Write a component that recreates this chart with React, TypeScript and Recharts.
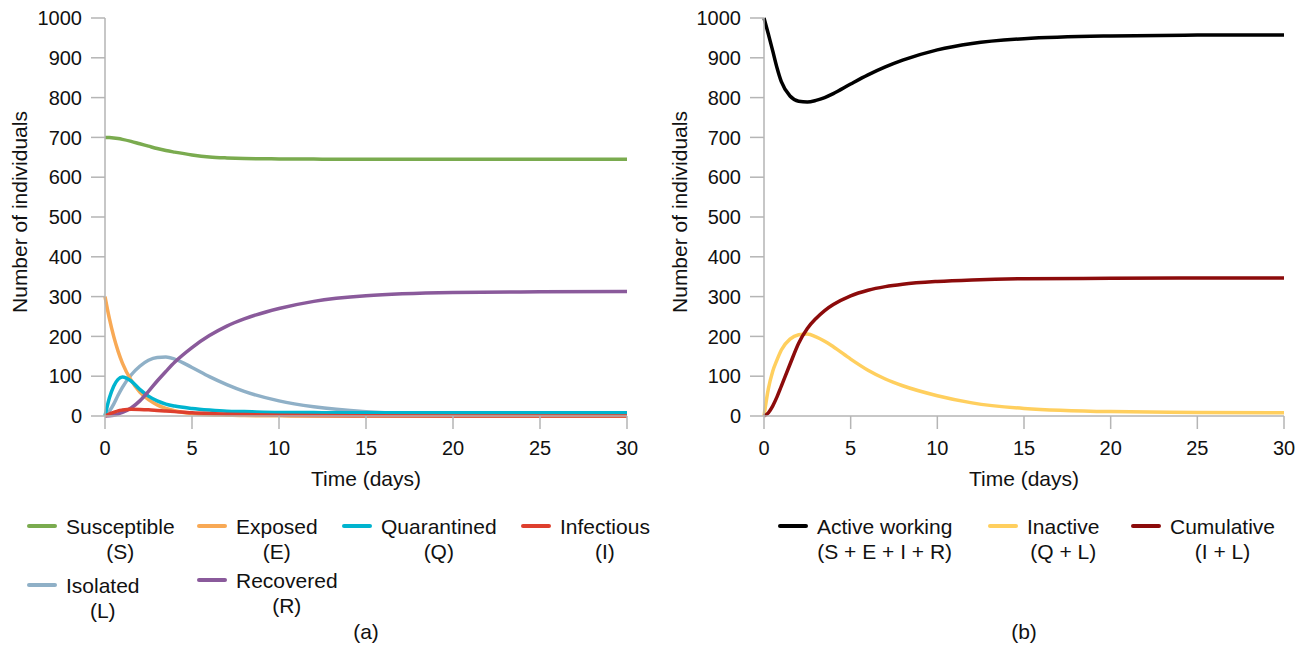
import { LineChart, Line, XAxis, YAxis } from 'recharts'

const time = [0, 0.25, 0.5, 0.75, 1, 1.5, 2, 2.5, 3, 3.5, 4, 5, 6, 7, 8, 10, 12, 15, 20, 25, 30]

// panel (a)
const susceptible = [700, 699.5, 698.5, 697, 695, 690, 684, 678, 672, 667, 663, 656, 651, 648.5, 647, 646, 645.5, 645, 645, 645, 645]
const exposed = [300, 245, 200, 163, 133, 90, 60, 41, 28, 19, 13, 6, 3, 2, 1, 0.5, 0, 0, 0, 0, 0]
const quarantined = [0, 45, 75, 92, 98, 88, 67, 50, 38, 30, 25, 19, 15, 12, 11, 9, 8.5, 8, 8, 8, 8]
const infectious = [0, 5, 9, 13, 15, 17, 16.5, 15.5, 14, 12.5, 11, 8, 6, 4.5, 3.5, 2, 1, 0.5, 0, 0, 0]
const isolated = [0, 12, 30, 52, 72, 103, 125, 140, 147, 148, 143, 122, 99, 79, 62, 38, 23, 11, 4, 3, 3]
const recovered = [0, 0.5, 2, 5, 9, 20, 38, 62, 88, 112, 135, 172, 202, 226, 244, 270, 288, 302, 310, 312, 313]

// panel (b)
const activeWorking = [1000, 960, 918, 875, 840, 804, 791, 789, 793, 800, 810, 834, 857, 877, 894, 920, 936, 948, 955, 957, 957]
const inactive = [0, 68, 112, 141, 166, 193, 204, 206, 199, 188, 174, 143, 115, 93, 76, 51, 33, 19, 11, 9, 8]
const cumulative = [0, 8, 25, 48, 75, 130, 183, 220, 245, 265, 280, 302, 316, 325, 331, 338, 342, 345, 346, 347, 347]

const xTicks = [0, 5, 10, 15, 20, 25, 30]
const yTicks = [0, 100, 200, 300, 400, 500, 600, 700, 800, 900, 1000]

const dataA = time.map((t, i) => ({
  t,
  S: susceptible[i],
  E: exposed[i],
  Q: quarantined[i],
  I: infectious[i],
  L: isolated[i],
  R: recovered[i],
}))

const dataB = time.map((t, i) => ({
  t,
  active: activeWorking[i],
  inactive: inactive[i],
  cumulative: cumulative[i],
}))

const FONT = '"Liberation Sans", Arial, sans-serif'
const AXIS = '#b5b5b5'
const TEXT = '#111'

const seriesA = [
  { key: 'L', color: '#8fb0c7' },
  { key: 'E', color: '#f8a955' },
  { key: 'Q', color: '#00b4cf' },
  { key: 'R', color: '#8a5a9b' },
  { key: 'I', color: '#de3f2e' },
  { key: 'S', color: '#7aab4f' },
]

const seriesB = [
  { key: 'inactive', color: '#ffcf5e' },
  { key: 'cumulative', color: '#8c0b0b' },
  { key: 'active', color: '#000000' },
]

type Item = { label: string; sub: string; color: string; x: number; y: number }

const legendA: Item[] = [
  { label: 'Susceptible', sub: '(S)', color: '#7aab4f', x: 27, y: 526 },
  { label: 'Exposed', sub: '(E)', color: '#f8a955', x: 197, y: 526 },
  { label: 'Quarantined', sub: '(Q)', color: '#00b4cf', x: 342, y: 526 },
  { label: 'Infectious', sub: '(I)', color: '#de3f2e', x: 521, y: 526 },
  { label: 'Isolated', sub: '(L)', color: '#8fb0c7', x: 27, y: 585 },
  { label: 'Recovered', sub: '(R)', color: '#8a5a9b', x: 197, y: 580 },
]

const legendB: Item[] = [
  { label: 'Active working', sub: '(S + E + I + R)', color: '#000000', x: 778, y: 526 },
  { label: 'Inactive', sub: '(Q + L)', color: '#ffcf5e', x: 988, y: 526 },
  { label: 'Cumulative', sub: '(I + L)', color: '#8c0b0b', x: 1131, y: 526 },
]

function LegendItem({ item }: { item: Item }) {
  return (
    <div style={{ position: 'absolute', left: item.x, top: item.y - 12.5, display: 'flex', alignItems: 'flex-start' }}>
      <div style={{ width: 30, height: 4, borderRadius: 2, background: item.color, marginTop: 10.5 }} />
      <div style={{ marginLeft: 9, textAlign: 'center', fontSize: 21, lineHeight: '25px', color: TEXT, whiteSpace: 'nowrap' }}>
        <div>{item.label}</div>
        <div>{item.sub}</div>
      </div>
    </div>
  )
}

function Panel({
  data,
  series,
  width,
  yAxisWidth,
  right,
}: {
  data: any[]
  series: { key: string; color: string }[]
  width: number
  yAxisWidth: number
  right: number
}) {
  const plotCenter = (yAxisWidth + width - right) / 2
  return (
    <LineChart width={width} height={500} data={data} margin={{ top: 18, right, bottom: 0, left: 0 }}>
      <XAxis
        dataKey="t"
        type="number"
        domain={[0, 30]}
        ticks={xTicks}
        height={84}
        stroke={AXIS}
        strokeWidth={1.5}
        tickSize={13}
        tickMargin={12}
        tick={{ fill: TEXT, fontSize: 20, fontFamily: FONT }}
        label={() => (
          <text x={plotCenter} y={486} textAnchor="middle" fill={TEXT} fontSize={21} fontFamily={FONT}>
            Time (days)
          </text>
        )}
      />
      <YAxis
        type="number"
        domain={[0, 1000]}
        ticks={yTicks}
        width={yAxisWidth}
        stroke={AXIS}
        strokeWidth={1.5}
        tickSize={14}
        tickMargin={9}
        tick={{ fill: TEXT, fontSize: 20, fontFamily: FONT }}
        label={() => (
          <text
            x={27}
            y={212}
            transform="rotate(-90 27 212)"
            textAnchor="middle"
            fill={TEXT}
            fontSize={21}
            fontFamily={FONT}
          >
            Number of individuals
          </text>
        )}
      />
      {series.map((s) => (
        <Line
          key={s.key}
          type="monotone"
          dataKey={s.key}
          stroke={s.color}
          strokeWidth={3.5}
          dot={false}
          activeDot={false}
          isAnimationActive={false}
        />
      ))}
    </LineChart>
  )
}

export default function App() {
  return (
    <div style={{ position: 'absolute', left: 0, top: 0, width: 1310, height: 648, background: '#fff', fontFamily: FONT }}>
      <div style={{ position: 'absolute', left: 0, top: 0 }}>
        <Panel data={dataA} series={seriesA} width={660} yAxisWidth={105} right={33} />
      </div>
      <div style={{ position: 'absolute', left: 660, top: 0 }}>
        <Panel data={dataB} series={seriesB} width={650} yAxisWidth={104} right={26} />
      </div>
      {legendA.map((it) => (
        <LegendItem key={it.label} item={it} />
      ))}
      {legendB.map((it) => (
        <LegendItem key={it.label} item={it} />
      ))}
      <div style={{ position: 'absolute', left: 366, top: 620, transform: 'translateX(-50%)', fontSize: 21, color: TEXT }}>(a)</div>
      <div style={{ position: 'absolute', left: 1024, top: 620, transform: 'translateX(-50%)', fontSize: 21, color: TEXT }}>(b)</div>
    </div>
  )
}
